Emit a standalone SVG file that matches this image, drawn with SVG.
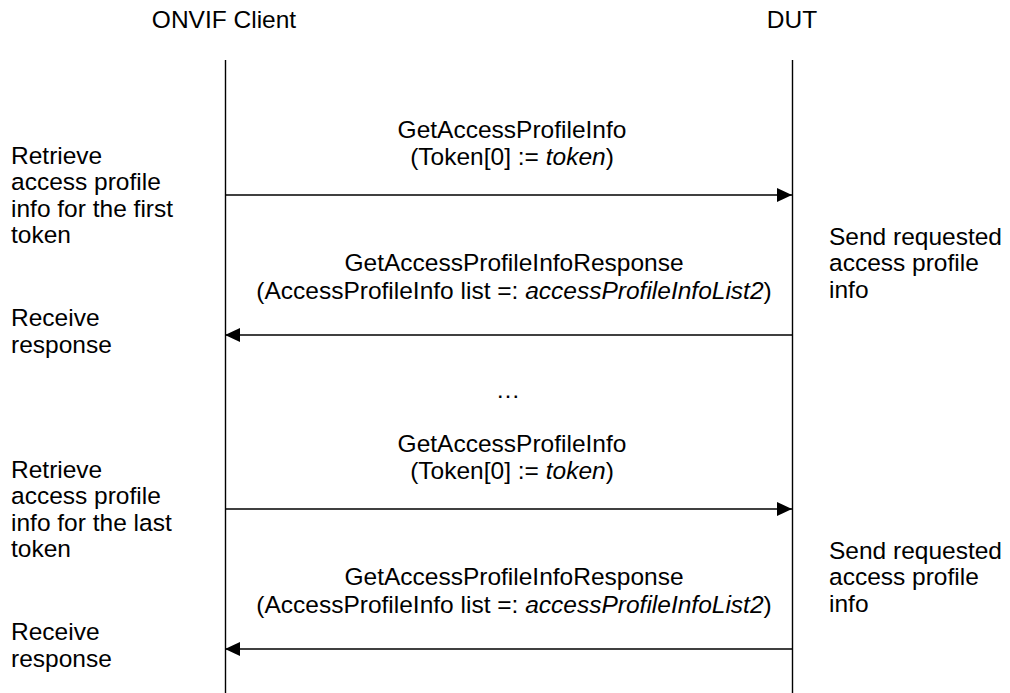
<svg xmlns="http://www.w3.org/2000/svg" width="1010" height="693" viewBox="0 0 1010 693">
<defs>
<style>
text{font-family:"Liberation Sans",Arial,sans-serif;font-size:24.5px;fill:#000}
.c{text-anchor:middle}
.ln{stroke:#000;stroke-width:1.4;fill:none}
</style>
<marker id="ah" viewBox="0 0 15 14" refX="15" refY="7" markerWidth="15" markerHeight="14" markerUnits="userSpaceOnUse" orient="auto">
<path d="M0,0L15,7L0,14z" fill="#000"/>
</marker>
</defs>
<rect width="1010" height="693" fill="#fff"/>
<g id="client">
<text class="c" x="224" y="28">ONVIF Client</text>
<line class="ln" x1="225.5" y1="60" x2="225.5" y2="693"/>
</g>
<g id="dut">
<text class="c" x="792" y="28">DUT</text>
<line class="ln" x1="792.5" y1="60" x2="792.5" y2="693"/>
</g>
<g id="connectors">
<line class="ln" x1="226" y1="195" x2="792" y2="195" marker-end="url(#ah)"/>
<line class="ln" x1="792" y1="335" x2="225" y2="335" marker-end="url(#ah)"/>
<line class="ln" x1="226" y1="509" x2="792" y2="509" marker-end="url(#ah)"/>
<line class="ln" x1="792" y1="649" x2="225" y2="649" marker-end="url(#ah)"/>
</g>
<g id="msg1">
<text class="c" x="512" y="138">GetAccessProfileInfo</text>
<text class="c" x="512" y="165">(Token[0] := <tspan font-style="italic">token</tspan>)</text>
</g>
<g id="msg2">
<text class="c" x="514" y="271">GetAccessProfileInfoResponse</text>
<text class="c" x="514" y="299">(AccessProfileInfo list =: <tspan font-style="italic">accessProfileInfoList2</tspan>)</text>
</g>
<g id="ellipsis">
<text class="c" x="508" y="398">…</text>
</g>
<g id="msg3">
<text class="c" x="512" y="452">GetAccessProfileInfo</text>
<text class="c" x="512" y="479">(Token[0] := <tspan font-style="italic">token</tspan>)</text>
</g>
<g id="msg4">
<text class="c" x="514" y="585">GetAccessProfileInfoResponse</text>
<text class="c" x="514" y="613">(AccessProfileInfo list =: <tspan font-style="italic">accessProfileInfoList2</tspan>)</text>
</g>
<g id="note1">
<text x="11" y="164">Retrieve</text>
<text x="11" y="190">access profile</text>
<text x="11" y="217">info for the first</text>
<text x="11" y="243">token</text>
</g>
<g id="note2">
<text x="11" y="326">Receive</text>
<text x="11" y="353">response</text>
</g>
<g id="note3">
<text x="829" y="245">Send requested</text>
<text x="829" y="271">access profile</text>
<text x="829" y="298">info</text>
</g>
<g id="note4">
<text x="11" y="478">Retrieve</text>
<text x="11" y="504">access profile</text>
<text x="11" y="531">info for the last</text>
<text x="11" y="557">token</text>
</g>
<g id="note5">
<text x="11" y="640">Receive</text>
<text x="11" y="667">response</text>
</g>
<g id="note6">
<text x="829" y="559">Send requested</text>
<text x="829" y="585">access profile</text>
<text x="829" y="612">info</text>
</g>
</svg>
